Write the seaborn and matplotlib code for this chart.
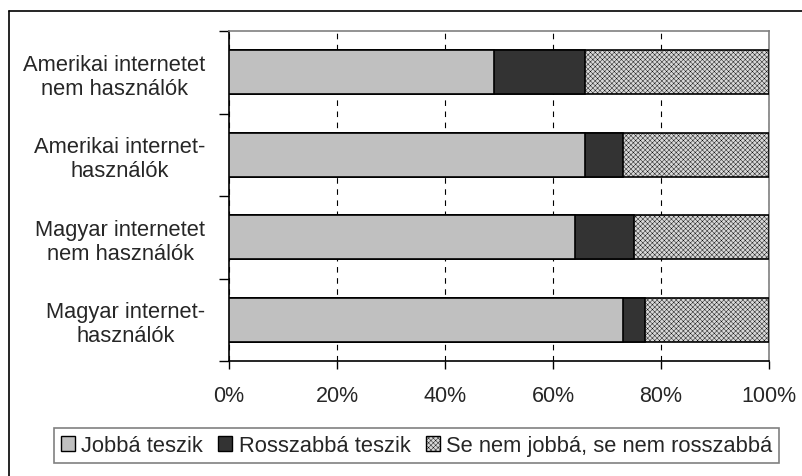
import matplotlib
matplotlib.use('Agg')
import matplotlib.pyplot as plt
import seaborn as sns
import pandas as pd
from matplotlib.patches import Patch
from matplotlib.lines import Line2D

categories = ["Amerikai internetet\nnem használók",
              "Amerikai internet-\nhasználók",
              "Magyar internetet\nnem használók",
              "Magyar internet-\nhasználók"]
jobba = [49, 66, 64, 73]
rosszabba = [17, 7, 11, 4]
semleges = [34, 27, 25, 23]
series_names = ["Jobbá teszik", "Rosszabbá teszik", "Se nem jobbá, se nem rosszabbá"]
xtick_values = [0, 20, 40, 60, 80, 100]
xtick_labels = ["0%", "20%", "40%", "60%", "80%", "100%"]

sns.set_style('white')
plt.rcParams['font.family'] = ['Liberation Sans', 'DejaVu Sans']
plt.rcParams['hatch.linewidth'] = 0.3

W, H = 802, 477
fig = plt.figure(figsize=(W / 100, H / 100), dpi=100)
ax = fig.add_axes([229 / W, 1 - 362 / H, 540 / W, 330 / H])

df = pd.DataFrame({'cat': categories, 'j': jobba, 'r': rosszabba, 's': semleges})
df['c1'] = df['j']
df['c2'] = df['j'] + df['r']
df['c3'] = df['c2'] + df['s']

colors = ['#c0c0c0', '#333333', '#d8d8d8']
hatch = 'xxxxxxx'
layers = [('c3', colors[2], hatch), ('c2', colors[1], None), ('c1', colors[0], None)]
for col, color, h in layers:
    n0 = len(ax.patches)
    sns.barplot(data=df, x=col, y='cat', orient='h', color=color, width=0.53,
                edgecolor='black', linewidth=1.2, saturation=1, ax=ax, zorder=3)
    if h:
        for p in ax.patches[n0:]:
            p.set_hatch(h)

ax.set_xlim(0, 100)
ax.set_ylim(3.5, -0.5)
ax.set_xlabel('')
ax.set_ylabel('')
ax.set_xticks(xtick_values)
ax.set_xticklabels(xtick_labels, fontsize=15.5)
ax.set_yticks(range(len(categories)))
ax.set_yticklabels(categories, fontsize=15.75)
for t in ax.get_yticklabels():
    t.set_multialignment('center')
ax.set_yticks([-0.5, 0.5, 1.5, 2.5, 3.5], minor=True)
ax.tick_params(axis='y', which='major', length=0, pad=17)
ax.tick_params(axis='y', which='minor', length=7, width=1, color='black', direction='out', left=True)
ax.tick_params(axis='x', which='major', length=6, width=1, color='black', direction='out', bottom=True, pad=11)

ax.grid(axis='x', color='black', linestyle=(0, (5, 5)), linewidth=0.8)
ax.grid(axis='y', visible=False)
ax.set_axisbelow(True)
for s in ['left', 'bottom']:
    ax.spines[s].set_color('black')
    ax.spines[s].set_linewidth(1.2)
for s in ['top', 'right']:
    ax.spines[s].set_color('#808080')
    ax.spines[s].set_linewidth(1.2)

handles = [Patch(facecolor=colors[0], edgecolor='black', linewidth=1),
           Patch(facecolor=colors[1], edgecolor='black', linewidth=1),
           Patch(facecolor=colors[2], edgecolor='black', linewidth=1, hatch=hatch)]
leg = fig.legend(handles, series_names, loc='center', ncol=3,
                 bbox_to_anchor=((51 + 782) / 2 / W, 1 - (428 + 465) / 2 / H),
                 fontsize=15.75, frameon=True, fancybox=False, edgecolor='#606060',
                 handlelength=0.65, handleheight=0.65, handletextpad=0.28,
                 columnspacing=0.7, borderpad=0.3)
leg.get_frame().set_linewidth(1.2)

fig.add_artist(Line2D([9 / W, 9 / W], [0, 1 - 12 / H], color='black', linewidth=1.2, transform=fig.transFigure))
fig.add_artist(Line2D([9 / W, 1], [1 - 12 / H, 1 - 12 / H], color='black', linewidth=1.2, transform=fig.transFigure))

fig.savefig('out.png', dpi=100, facecolor='white')
